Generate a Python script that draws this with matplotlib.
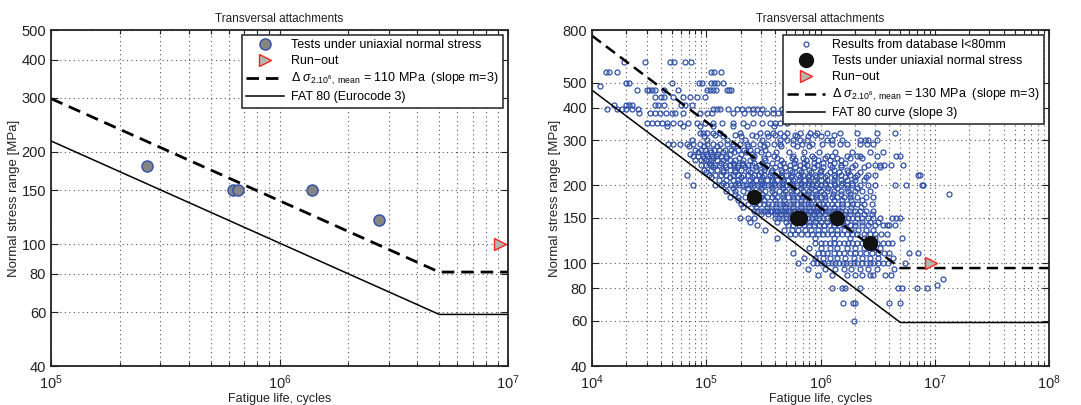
import numpy as np
import matplotlib
matplotlib.use("Agg")
import matplotlib.pyplot as plt
from matplotlib.ticker import FixedLocator, FixedFormatter, NullFormatter, LogFormatterMathtext, NullLocator

plt.rcParams['font.family'] = ['Liberation Sans', 'DejaVu Sans']
plt.rcParams['mathtext.fontset'] = 'custom'
plt.rcParams['mathtext.rm'] = 'Liberation Sans'
plt.rcParams['mathtext.it'] = 'Liberation Sans:italic'
plt.rcParams['mathtext.sf'] = 'Liberation Sans'

# ---- own test results (cycles, stress range MPa) ----
test_cycles = [2.62e5, 6.28e5, 6.56e5, 1.39e6, 2.73e6]
test_stress = [180, 150, 150, 150, 120]
runout_cycles = [9.2e6]
runout_stress = [100]

# ---- S-N curve parameters ----
mean_ref_left = 110      # MPa at 2e6 cycles
mean_ref_right = 130     # MPa at 2e6 cycles
fat_class = 80           # MPa at 2e6 cycles
slope_m = 3
n_ref = 2e6
n_cutoff = 5e6

# ---- literature database, l < 80 mm: stress levels [MPa] and lives [kcycles] ----
db_levels = [600, 550, 500, 485, 470, 440, 410, 395, 380, 350, 340, 320, 315, 310, 300, 290,
             285, 275, 270, 265, 260, 255, 250, 245, 240, 235, 230, 225, 220, 215, 210, 205,
             200, 195, 190, 186, 185, 180, 175, 170, 165, 160, 155, 150, 145, 140, 135, 130,
             125, 120, 115, 110, 105, 100, 95, 90, 87, 82, 80, 70, 60]
db_kcycles = [
    [19, 29, 48, 52, 65, 74],                                                    # 600
    [13.3, 14.1, 16.5, 110, 117, 135],                                           # 550
    [20, 21, 50, 86, 92, 110, 117, 124, 140],                                    # 500
    [11.7],                                                                      # 485
    [25, 30, 31.5, 33.5, 35.5, 43, 57, 102, 108, 115, 122, 152, 158, 164],       # 470
    [35.5, 40, 43, 51, 63, 72, 83, 97],                                          # 440
    [15.6, 20, 21, 22.5, 35.5, 38, 43, 60, 65, 75],                              # 410
    [13.5, 16.5, 18.3, 20, 22.5, 25.5, 115, 124, 132, 155, 186, 206, 230, 257, 278, 307,
     383, 460],                                                                  # 395
    [26, 32, 35.5, 39.5, 44.5, 50, 53, 63, 88, 102, 112, 171, 214, 257, 296, 341, 383,
     424, 470],                                                                  # 380
    [30, 33.5, 37, 41, 45, 51, 59, 69, 83, 98, 115, 137, 171, 210, 257, 307, 360, 397,
     440, 510],                                                                  # 350
    [45, 63, 88, 115, 172, 227, 390],                                            # 340
    [88, 94, 102, 115, 132, 198, 296, 341, 383, 440, 510, 660, 810, 930, 1140, 1480,
     2100, 3100, 4500],                                                          # 320
    [120, 180, 250, 400, 600, 900, 1300],                                        # 315
    [95, 140, 200, 270, 350, 480, 620, 780, 1000],                               # 310
    [75, 101, 152, 220, 310, 440, 510, 570, 660, 760, 1150, 1270, 1550, 2200, 2450,
     2600, 3100],                                                                # 300
    [46, 51, 59, 68, 77, 88, 101, 115, 132, 151, 172, 197, 227, 257, 295, 340, 390, 440,
     570, 690, 850, 1040, 1270, 1480, 1700, 2200, 2550, 2900],                   # 290
    [70, 95, 125, 170, 230, 320, 450, 620, 800],                                 # 285
    [80, 90, 98, 108, 118, 130, 145, 165, 190, 215, 240, 280, 330],              # 275
    [85, 110, 140, 175, 225, 300, 410, 530, 720, 980, 1350, 1900, 2700, 3500],   # 270
    [72, 100, 128, 160, 200, 250, 350],                                          # 265
    [77, 85, 93, 102, 112, 122, 135, 150, 260, 390, 570, 850, 1150, 1270, 1700, 2100,
     2200, 3100, 4600, 5000],                                                    # 260
    [95, 115, 150, 195, 255, 320, 420, 560, 700, 880, 1100, 1400, 1800, 2300],   # 255
    [80, 90, 100, 110, 125, 140, 160, 180, 210, 240, 330, 450, 600, 750, 950, 1200,
     1500],                                                                      # 250
    [105, 135, 170, 205, 260, 310, 380, 470, 590, 720, 880, 1050, 1300, 1650],   # 245
    [90, 100, 110, 120, 130, 145, 160, 175, 190, 210, 230, 250, 290, 340, 440, 540, 660,
     760, 930, 1200, 1500, 2000, 2600, 3000, 3300, 3600, 4100, 5300],            # 240
    [115, 150, 185, 220, 270, 330, 400, 490, 600, 720, 870, 1050, 1250, 1500, 1900,
     2400, 3300],                                                                # 235
    [95, 110, 125, 140, 160, 180, 200, 230, 270, 320, 380, 450, 540, 650, 800, 1000,
     1300, 1700],                                                                # 230
    [100, 140, 180, 240, 300, 370, 460, 560, 680, 820, 990, 1200, 1450, 1750, 2200],  # 225
    [68, 105, 120, 135, 150, 170, 190, 210, 230, 260, 290, 320, 360, 400, 450, 500, 560,
     630, 700, 800, 900, 1000, 1150, 1300, 1500, 1800, 2100, 2600, 3000, 7200, 7500],  # 220
    [110, 160, 200, 250, 310, 380, 460, 550, 660, 780, 920, 1100, 1350, 1650, 2000,
     2500],                                                                      # 215
    [130, 150, 170, 190, 215, 240, 270, 300, 340, 380, 420, 470, 520, 580, 650, 720, 800,
     900, 1000, 1150, 1300, 1500, 1700, 2000, 2400],                             # 210
    [140, 190, 250, 310, 390, 470, 560, 670, 790, 940, 1100, 1300, 1550, 1900],  # 205
    [77, 120, 135, 150, 165, 180, 195, 210, 225, 240, 260, 280, 300, 320, 345, 370, 400,
     430, 460, 500, 540, 580, 620, 670, 720, 780, 850, 920, 1000, 1100, 1200, 1350, 1500,
     1700, 1900, 2200, 2600, 3000, 4500, 5600, 7700, 7900],                      # 200
    [170, 230, 300, 380, 470, 570, 680, 820, 980, 1170, 1400, 1700, 2100],       # 195
    [150, 180, 210, 250, 290, 330, 380, 430, 490, 550, 620, 700, 800, 900, 1000, 1150,
     1300, 1500, 1750, 2000, 2300, 2700],                                        # 190
    [13300],                                                                     # 186
    [180, 240, 310, 390, 470, 560, 660, 780, 920, 1080, 1280, 1520, 1800],       # 185
    [160, 190, 220, 260, 300, 340, 380, 420, 470, 520, 570, 630, 690, 760, 830, 910,
     1000, 1100, 1250, 1400, 1600, 1800, 2100, 2500, 2900],                      # 180
    [190, 250, 320, 400, 480, 570, 670, 790, 930, 1100, 1300, 1550, 1850, 2300], # 175
    [200, 230, 260, 290, 320, 350, 380, 410, 440, 470, 500, 540, 580, 620, 670, 720, 770,
     830, 900, 970, 1050, 1150, 1250, 1400, 1550, 1700, 1900, 2100, 2400, 2800], # 170
    [210, 270, 340, 410, 490, 580, 680, 800, 940, 1100, 1300, 1550, 1850, 2250], # 165
    [260, 280, 300, 320, 340, 360, 380, 400, 420, 440, 460, 480, 500, 520, 545, 570, 600,
     630, 660, 690, 720, 750, 790, 830, 870, 910, 960, 1010, 1060, 1120, 1180, 1250, 1330,
     1420, 1520, 1650, 1800, 2000, 2200, 2500, 2900],                            # 160
    [300, 350, 400, 450, 500, 560, 620, 700, 780, 870, 970, 1100, 1250, 1400, 1600, 1800,
     2100, 2400, 2800],                                                          # 155
    [197, 230, 260, 400, 430, 460, 500, 540, 580, 620, 670, 720, 780, 840, 900, 980, 1060,
     1150, 1250, 1350, 1450, 1600, 1750, 1900, 2100, 2300, 2600, 2900, 3300, 4200, 4600,
     5000],                                                                      # 150
    [240, 420, 500, 600, 700, 800, 900, 1000, 1150, 1300, 1500, 1700, 2000, 2300, 2700,
     3200],                                                                      # 145
    [280, 520, 580, 650, 720, 800, 880, 970, 1070, 1180, 1300, 1450, 1600, 1800, 2000,
     2300, 2600, 3000, 3500, 3800, 4000, 4500],                                  # 140
    [330, 480, 560, 640, 730, 830, 950, 1080, 1230, 1400, 1600, 1850, 2150, 2500, 2900],  # 135
    [540, 600, 680, 760, 850, 950, 1050, 1150, 1270, 1400, 1550, 1700, 1900, 2100, 2400,
     2700, 3000, 3400, 3800],                                                    # 130
    [420, 900, 1300, 1800, 2400, 3000, 5200],                                    # 125
    [900, 1000, 1100, 1200, 1300, 1450, 1600, 1750, 1900, 2100, 2300, 2500, 2800, 3100,
     3500, 3900, 4200],                                                          # 120
    [800, 1000, 1200, 1400, 1700, 2000, 2400, 2800, 3300],                       # 115
    [580, 950, 1050, 1150, 1300, 1450, 1600, 1800, 2000, 2200, 2500, 2800, 3200, 3600,
     4000, 6000, 7200],                                                          # 110
    [720, 900, 1050, 1200, 1400, 1650, 1950, 2300, 2700, 3200, 4300],            # 105
    [640, 860, 940, 1000, 1080, 1160, 1250, 1350, 1450, 1560, 1680, 1800, 1950, 2100,
     2300, 2500, 2700, 2900, 3200, 3500, 3900, 5500],                            # 100
    [780, 1100, 1350, 1600, 1850, 2200, 2600, 3100, 4400],                       # 95
    [950, 1270, 1700, 2000, 2300, 2700, 2900, 3700, 4100],                       # 90
    [11800],                                                                     # 87
    [10400],                                                                     # 82
    [1250, 1550, 1650, 2200, 4800, 5200, 7000, 8500],                            # 80
    [1580, 1930, 2000, 4000, 5000],                                              # 70
    [1950],                                                                      # 60
]

title = "Transversal attachments"
xlabel = "Fatigue life, cycles"
ylabel = "Normal stress range [MPa]"
left_yticks = [40, 60, 80, 100, 150, 200, 300, 400, 500]
right_yticks = [40, 60, 80, 100, 150, 200, 300, 400, 500, 800]

blue = '#3050a8'
ink = '#222222'


def sn_curve(ref_stress, n_start, n_end):
    """Two-part S-N curve: slope m down to the cutoff life, constant beyond."""
    n = np.array([n_start, n_cutoff, n_end])
    s = ref_stress * (n_ref / np.minimum(n, n_cutoff)) ** (1.0 / slope_m)
    return n, s


def style_axes(ax, xlim, ylim, yticks):
    ax.set_xscale('log')
    ax.set_yscale('log')
    ax.set_xlim(*xlim)
    ax.set_ylim(*ylim)
    ax.yaxis.set_major_locator(FixedLocator(yticks))
    ax.yaxis.set_major_formatter(FixedFormatter([str(t) for t in yticks]))
    ax.yaxis.set_minor_locator(NullLocator())
    ax.xaxis.set_major_formatter(LogFormatterMathtext())
    ax.xaxis.set_minor_formatter(NullFormatter())
    ax.tick_params(which='both', direction='in', top=True, right=True, labelsize=10.5,
                   width=0.8, colors=ink)
    ax.tick_params(which='major', length=5)
    ax.tick_params(which='minor', length=3)
    ax.tick_params(axis='x', which='major', pad=5)
    ax.grid(True, which='major', axis='both', linestyle=(0, (1, 3)), color='#555555', lw=0.8)
    ax.grid(True, which='minor', axis='x', linestyle=(0, (1, 3)), color='#555555', lw=0.8)
    for sp in ax.spines.values():
        sp.set_linewidth(1.3)
        sp.set_color(ink)
    ax.set_title(title, fontsize=8.5, pad=6, color=ink)
    ax.set_xlabel(xlabel, fontsize=9, labelpad=1, color=ink)
    ax.set_ylabel(ylabel, fontsize=9.5, labelpad=1, color=ink)


def add_legend(ax, handles, labels):
    leg = ax.legend(handles, labels, loc='upper right', fontsize=9, fancybox=False,
                    framealpha=1, edgecolor=ink, borderaxespad=0.4, handlelength=3.0,
                    labelspacing=0.32, borderpad=0.35, handletextpad=0.6)
    leg.get_frame().set_linewidth(1.1)
    return leg


def mean_label(ref):
    return r'$\Delta\ \sigma_{2.10^6,\ \mathrm{mean}}$ = %d MPa  (slope m=3)' % ref


fig = plt.figure(figsize=(10.81, 4.05), dpi=100)
ax1 = fig.add_axes([51 / 1081, 39 / 405, 457 / 1081, 336 / 405])
ax2 = fig.add_axes([592 / 1081, 39 / 405, 457 / 1081, 336 / 405])

dash_style = (0, (4.5, 2.5))

# ---------------- left panel ----------------
style_axes(ax1, (1e5, 1e7), (40, 500), left_yticks)
n, s = sn_curve(mean_ref_left, 1e5, 1e7)
ln_mean, = ax1.plot(n, s, color='black', lw=2.0, linestyle=dash_style)
n, s = sn_curve(fat_class, 1e5, 1e7)
ln_fat, = ax1.plot(n, s, color='black', lw=1.1)
pt_tests, = ax1.plot(test_cycles, test_stress, 'o', ms=8, mfc='#858585', mec=blue, mew=1.0,
                     linestyle='none')
pt_run, = ax1.plot(runout_cycles, runout_stress, '>', ms=9, mfc='#aebaae', mec='#ff2020',
                   mew=1.0, linestyle='none', clip_on=False)
add_legend(ax1, [pt_tests, pt_run, ln_mean, ln_fat],
           ['Tests under uniaxial normal stress', 'Run\u2212out', mean_label(mean_ref_left),
            'FAT %d (Eurocode 3)' % fat_class])

# ---------------- right panel ----------------
style_axes(ax2, (1e4, 1e8), (40, 800), right_yticks)
db_n = np.concatenate([np.asarray(c, float) * 1e3 for c in db_kcycles])
db_s = np.concatenate([np.full(len(c), lev, float) for c, lev in zip(db_kcycles, db_levels)])
pt_db, = ax2.plot(db_n, db_s, 'o', ms=3.6, mfc='none', mec=blue, mew=0.9, linestyle='none')
n, s = sn_curve(mean_ref_right, 1e4, 1e8)
ln_mean2, = ax2.plot(n, s, color='black', lw=1.8, linestyle=dash_style)
n, s = sn_curve(fat_class, 1e4, 1e8)
ln_fat2, = ax2.plot(n, s, color='black', lw=1.1)
pt_tests2, = ax2.plot(test_cycles, test_stress, 'o', ms=10, mfc='#111111', mec='#111111',
                      linestyle='none')
pt_run2, = ax2.plot(runout_cycles, runout_stress, '>', ms=9, mfc='#aebaae', mec='#ff2020',
                    mew=1.0, linestyle='none')
add_legend(ax2, [pt_db, pt_tests2, pt_run2, ln_mean2, ln_fat2],
           ['Results from database l<80mm', 'Tests under uniaxial normal stress', 'Run\u2212out',
            mean_label(mean_ref_right), 'FAT %d curve (slope 3)' % fat_class])

fig.savefig('out.png', dpi=100)
